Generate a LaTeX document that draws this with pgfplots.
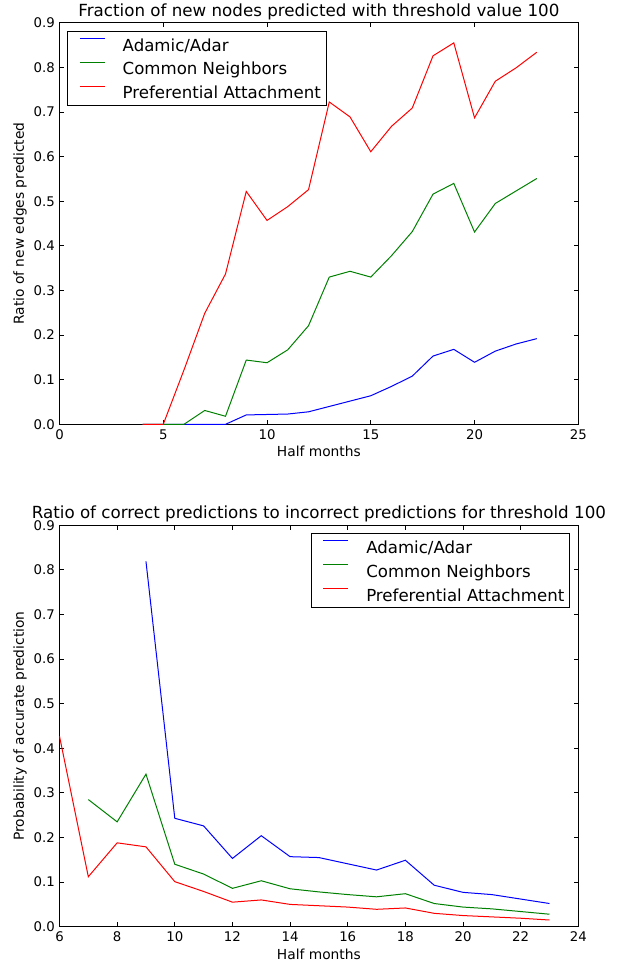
\documentclass[border=0pt]{standalone}
\usepackage{fontspec}
\setmainfont{DejaVu Sans}
\usepackage{pgfplots}
\pgfplotsset{compat=1.18}
\definecolor{mplblue}{rgb}{0,0,1}
\definecolor{mplgreen}{rgb}{0,0.5,0}
\definecolor{mplred}{rgb}{1,0,0}
\begin{document}
\fontsize{13.3}{16}\selectfont
\begin{tikzpicture}
\pgfplotsset{
  mpl/.style={
    scale only axis, width=518.8pt, height=401.5pt,
    font=\fontsize{13.3}{16}\selectfont,
    axis line style={line width=1pt, black},
    every tick/.style={line width=0.8pt, black},
    major tick length=4.5pt,
    tick align=inside,
    tick pos=both,
    ymin=0, ymax=0.9, ytick={0,0.1,...,0.9},
    /pgf/number format/assume math mode=true,
    yticklabel style={/pgf/number format/fixed, /pgf/number format/fixed zerofill, /pgf/number format/precision=1, inner sep=0pt, anchor=east, xshift=-4.5pt},
    xticklabel style={inner sep=0pt, anchor=north, yshift=-5pt},
    every axis title/.style={at={(0.5,1)}, anchor=base, yshift=6.6pt, font=\fontsize{16.7}{20}\selectfont},
    every axis x label/.style={at={(0.5,0)}, anchor=base, yshift=-32.7pt, font=\fontsize{13.8}{16}\selectfont},
    every axis y label/.style={at={(0,0.5)}, xshift=-35.5pt, rotate=90, anchor=base, font=\fontsize{13.8}{16}\selectfont},
    legend cell align=left,
    legend image code/.code={\path (0pt,0pt); \draw[##1,line width=1pt] (5.9pt,6pt) -- (30.9pt,6pt);},
    legend style={draw=black, line width=1pt, fill=white,
      inner xsep=5.4pt, inner ysep=5.9pt, row sep=9.3pt, column sep=17.4pt,
      nodes={inner sep=0pt, text height=14pt, text depth=0.5pt},
      font=\fontsize{16.6}{19}\selectfont},
    every axis plot/.append style={line width=1pt, no markers},
  }
}
\path[use as bounding box] (-59.5pt,-538.7pt) rectangle (564.5pt,424.3pt);
\begin{axis}[mpl,
  xmin=0, xmax=25, xtick={0,5,...,25},
  title={Fraction of new nodes predicted with threshold value 100},
  xlabel={Half months}, ylabel={Ratio of new edges predicted},
  legend style={at={(0,1)}, anchor=north west, xshift=8pt, yshift=-8pt},
]
\addplot[mplblue] coordinates {(4,0) (5,0) (6,0) (7,0) (8,0) (9,0.021) (10,0.022) (11,0.023) (12,0.028) (13,0.040) (14,0.052) (15,0.064) (16,0.085) (17,0.108) (18,0.153) (19,0.168) (20,0.139) (21,0.164) (22,0.180) (23,0.192)};
\addplot[mplgreen] coordinates {(4,0) (5,0) (6,0) (7,0.031) (8,0.018) (9,0.144) (10,0.138) (11,0.167) (12,0.221) (13,0.330) (14,0.343) (15,0.330) (16,0.378) (17,0.432) (18,0.516) (19,0.540) (20,0.431) (21,0.495) (22,0.523) (23,0.551)};
\addplot[mplred] coordinates {(4,0) (5,0) (6,0.122) (7,0.249) (8,0.337) (9,0.522) (10,0.457) (11,0.488) (12,0.526) (13,0.7225) (14,0.689) (15,0.611) (16,0.668) (17,0.709) (18,0.826) (19,0.855) (20,0.687) (21,0.769) (22,0.799) (23,0.834)};
\legend{Adamic/Adar, Common Neighbors, Preferential Attachment}
\end{axis}
\begin{axis}[mpl, at={(0pt,-502.4pt)},
  xmin=6, xmax=24, xtick={6,8,...,24},
  title={Ratio of correct predictions to incorrect predictions for threshold 100},
  xlabel={Half months}, ylabel={Probability of accurate prediction},
  legend style={at={(1,1)}, anchor=north east, xshift=-8pt, yshift=-8pt},
]
\addplot[mplblue] coordinates {(9,0.819) (10,0.243) (11,0.226) (12,0.153) (13,0.204) (14,0.157) (15,0.155) (16,0.141) (17,0.127) (18,0.149) (19,0.093) (20,0.077) (21,0.072) (22,0.062) (23,0.052)};
\addplot[mplgreen] coordinates {(7,0.285) (8,0.235) (9,0.342) (10,0.140) (11,0.118) (12,0.086) (13,0.103) (14,0.085) (15,0.078) (16,0.072) (17,0.067) (18,0.074) (19,0.052) (20,0.044) (21,0.040) (22,0.034) (23,0.028)};
\addplot[mplred] coordinates {(6,0.427) (7,0.112) (8,0.188) (9,0.179) (10,0.101) (11,0.079) (12,0.055) (13,0.060) (14,0.050) (15,0.047) (16,0.044) (17,0.039) (18,0.042) (19,0.030) (20,0.025) (21,0.022) (22,0.019) (23,0.015)};
\legend{Adamic/Adar, Common Neighbors, Preferential Attachment}
\end{axis}
\end{tikzpicture}
\end{document}
